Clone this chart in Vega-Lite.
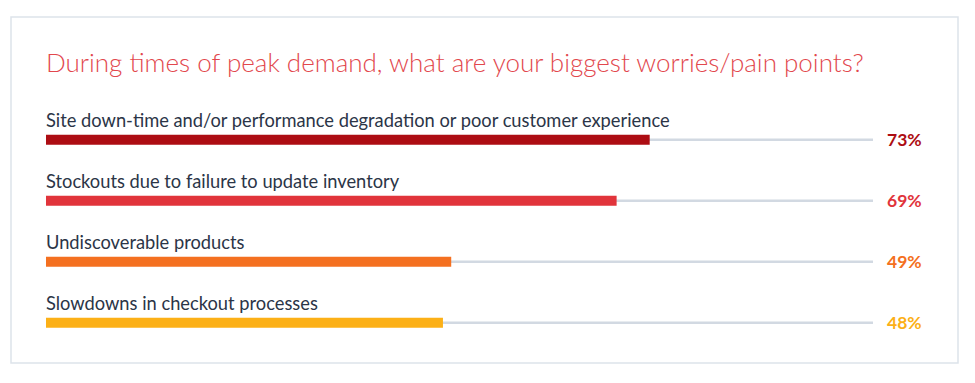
{
  "$schema": "https://vega.github.io/schema/vega-lite/v6.json",
  "autosize": {"type": "none"},
  "padding": {"left": 11, "top": 17, "right": 17, "bottom": 20},
  "width": 947,
  "height": 346,
  "background": "white",
  "title": {
    "text": "During times of peak demand, what are your biggest worries/pain points?",
    "anchor": "start",
    "frame": "group",
    "orient": "top",
    "offset": -81,
    "baseline": "alphabetic",
    "dx": 35,
    "font": "Lato",
    "fontSize": 26,
    "fontWeight": 300,
    "color": "#e2474d"
  },
  "config": {
    "view": {"stroke": "#dde3ea", "strokeWidth": 1.5},
    "font": "Lato"
  },
  "data": {
    "values": [
      {"item": "Site down-time and/or performance degradation or poor customer experience", "value": 73, "pct": "73%"},
      {"item": "Stockouts due to failure to update inventory", "value": 69, "pct": "69%"},
      {"item": "Undiscoverable products", "value": 49, "pct": "49%"},
      {"item": "Slowdowns in checkout processes", "value": 48, "pct": "48%"}
    ]
  },
  "resolve": {"scale": {"x": "shared", "y": "shared", "color": "shared"}},
  "layer": [
    {
      "mark": {"type": "rule", "color": "#d2d9e2", "strokeWidth": 2.5},
      "encoding": {
        "y": {"field": "item", "type": "nominal", "sort": null, "axis": null,
              "scale": {"paddingInner": 0, "paddingOuter": 0.836, "align": 0.904}},
        "x": {"datum": 0, "type": "quantitative", "scale": {"domain": [-4.232, 110.28], "nice": false, "zero": false}, "axis": null},
        "x2": {"datum": 100}
      }
    },
    {
      "mark": {"type": "bar", "height": 10},
      "encoding": {
        "y": {"field": "item", "type": "nominal", "sort": null},
        "x": {"field": "value", "type": "quantitative"},
        "x2": {"datum": 0},
        "color": {
          "field": "item",
          "type": "nominal",
          "legend": null,
          "scale": {
            "domain": [
              "Site down-time and/or performance degradation or poor customer experience",
              "Stockouts due to failure to update inventory",
              "Undiscoverable products",
              "Slowdowns in checkout processes"
            ],
            "range": ["#ad0d13", "#e1343b", "#f47020", "#fcb017"]
          }
        }
      }
    },
    {
      "mark": {"type": "text", "align": "left", "baseline": "alphabetic", "dy": -13, "fontSize": 18.3, "color": "#2b3547", "font": "Lato"},
      "encoding": {
        "y": {"field": "item", "type": "nominal", "sort": null},
        "x": {"datum": 0, "type": "quantitative"},
        "text": {"field": "item", "type": "nominal"}
      }
    },
    {
      "mark": {"type": "text", "align": "left", "baseline": "alphabetic", "dx": 14, "dy": 6.5, "fontSize": 17.5, "fontWeight": "bold", "font": "Lato"},
      "encoding": {
        "y": {"field": "item", "type": "nominal", "sort": null},
        "x": {"datum": 100, "type": "quantitative"},
        "text": {"field": "pct", "type": "nominal"},
        "color": {"field": "item", "type": "nominal", "legend": null}
      }
    }
  ]
}
